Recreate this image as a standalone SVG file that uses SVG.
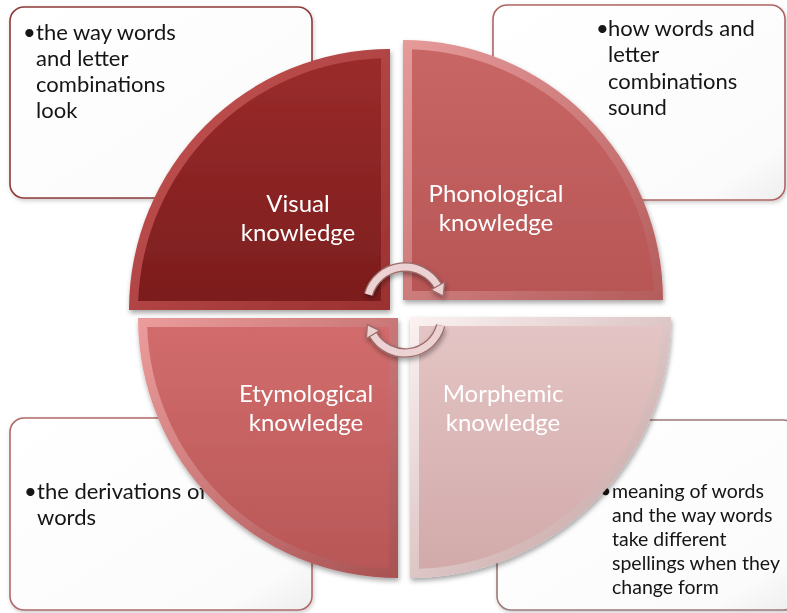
<svg xmlns="http://www.w3.org/2000/svg" width="787" height="613" viewBox="0 0 787 613">
  <defs>
    <style>
      .btxt{font-family:Lato,"Open Sans","Liberation Sans",sans-serif;font-size:22px;fill:#141414;}
      .btxt-sm{font-size:19.5px;}
      .label{font-family:Lato,"Open Sans","Liberation Sans",sans-serif;font-size:24px;fill:#ffffff;text-anchor:middle;}
      .box{fill:url(#boxFill);stroke-width:1.6;}
      .arc-edge{fill:none;stroke:#9c6a6a;stroke-width:9.5;}
      .arc-body{fill:none;stroke:#ecd2d2;stroke-width:7;}
      .head{fill:#ecd2d2;stroke:#9c6a6a;stroke-width:1.2;stroke-linejoin:round;}
    </style>
    <linearGradient id="boxFill" x1="0" y1="0" x2="1" y2="1">
      <stop offset="0" stop-color="#ffffff"/>
      <stop offset="0.85" stop-color="#fbfbfb"/>
      <stop offset="1" stop-color="#eeeeee"/>
    </linearGradient>
    <!-- quadrant bevel frames (lit from top-left) -->
    <linearGradient id="frameV" x1="0" y1="0" x2="1" y2="1">
      <stop offset="0" stop-color="#c85858"/>
      <stop offset="1" stop-color="#9a3030"/>
    </linearGradient>
    <linearGradient id="frameP" x1="0" y1="0" x2="1" y2="1">
      <stop offset="0" stop-color="#e69a9a"/>
      <stop offset="1" stop-color="#b45c5c"/>
    </linearGradient>
    <linearGradient id="frameE" x1="0" y1="0" x2="1" y2="1">
      <stop offset="0" stop-color="#ec9c9c"/>
      <stop offset="1" stop-color="#a85252"/>
    </linearGradient>
    <linearGradient id="frameM" x1="0" y1="0" x2="1" y2="1">
      <stop offset="0" stop-color="#fbf2f2"/>
      <stop offset="1" stop-color="#c09a9a"/>
    </linearGradient>
    <!-- quadrant faces -->
    <linearGradient id="faceV" x1="0" y1="0" x2="0" y2="1">
      <stop offset="0" stop-color="#9a2b2b"/>
      <stop offset="1" stop-color="#7c1d1d"/>
    </linearGradient>
    <linearGradient id="faceP" x1="0" y1="0" x2="0" y2="1">
      <stop offset="0" stop-color="#c86666"/>
      <stop offset="1" stop-color="#b85656"/>
    </linearGradient>
    <linearGradient id="faceE" x1="0" y1="0" x2="0" y2="1">
      <stop offset="0" stop-color="#d26c6c"/>
      <stop offset="1" stop-color="#b85757"/>
    </linearGradient>
    <linearGradient id="faceM" x1="0" y1="0" x2="0" y2="1">
      <stop offset="0" stop-color="#e4c4c4"/>
      <stop offset="1" stop-color="#d2aaaa"/>
    </linearGradient>
    <filter id="shadow" x="-10%" y="-10%" width="125%" height="125%">
      <feDropShadow dx="1" dy="3" stdDeviation="2.5" flood-color="#000000" flood-opacity="0.35"/>
    </filter>
    <filter id="boxShadow" x="-5%" y="-5%" width="115%" height="115%">
      <feDropShadow dx="1" dy="2" stdDeviation="2" flood-color="#000000" flood-opacity="0.2"/>
    </filter>
  </defs>

  <!-- description boxes (drawn beneath the circle) -->
  <g id="box-visual" filter="url(#boxShadow)">
    <rect class="box" x="10" y="7" width="302" height="191" rx="14" stroke="#8e3a3a"/>
    <text class="btxt"><tspan x="23" y="40">•</tspan><tspan x="36" y="40">the way words</tspan><tspan x="36" y="66">and letter</tspan><tspan x="36" y="92">combinations</tspan><tspan x="36" y="118">look</tspan></text>
  </g>
  <g id="box-phonological" filter="url(#boxShadow)">
    <rect class="box" x="493" y="5" width="292" height="195" rx="14" stroke="#b06464"/>
    <text class="btxt"><tspan x="596" y="36">•</tspan><tspan x="608" y="36">how words and</tspan><tspan x="608" y="62">letter</tspan><tspan x="608" y="89">combinations</tspan><tspan x="608" y="115">sound</tspan></text>
  </g>
  <g id="box-etymological" filter="url(#boxShadow)">
    <rect class="box" x="10" y="418" width="302" height="192" rx="14" stroke="#b06a6a"/>
    <text class="btxt"><tspan x="24" y="499">•</tspan><tspan x="37" y="499">the derivations of</tspan><tspan x="37" y="525">words</tspan></text>
  </g>
  <g id="box-morphemic" filter="url(#boxShadow)">
    <rect class="box" x="497" y="420" width="300" height="190" rx="14" stroke="#9c7a7a"/>
    <text class="btxt btxt-sm"><tspan x="600" y="498">•</tspan><tspan x="612" y="498">meaning of words</tspan><tspan x="612" y="522">and the way words</tspan><tspan x="612" y="546">take different</tspan><tspan x="612" y="570">spellings when they</tspan><tspan x="612" y="594">change form</tspan></text>
  </g>

  <!-- circle quadrants -->
  <g id="quadrant-visual" filter="url(#shadow)">
    <path d="M390,310 L129,310 A261,261 0 0 1 390,49 Z" fill="url(#frameV)"/>
    <path d="M381,301 L138.2,301 A252,252 0 0 1 381,58.2 Z" fill="url(#faceV)"/>
    <text class="label"><tspan x="298" y="212">Visual</tspan><tspan x="298" y="241">knowledge</tspan></text>
  </g>
  <g id="quadrant-phonological" filter="url(#shadow)">
    <path d="M403,300 L403,40 A260,260 0 0 1 663,300 Z" fill="url(#frameP)"/>
    <path d="M412,291 L412,49.2 A251,251 0 0 1 653.8,291 Z" fill="url(#faceP)"/>
    <text class="label"><tspan x="496" y="202">Phonological</tspan><tspan x="496" y="231">knowledge</tspan></text>
  </g>
  <g id="quadrant-etymological" filter="url(#shadow)">
    <path d="M398,318 L398,578 A260,260 0 0 1 138,318 Z" fill="url(#frameE)"/>
    <path d="M389,327 L389,568.8 A251,251 0 0 1 147.2,327 Z" fill="url(#faceE)"/>
    <text class="label"><tspan x="306" y="402">Etymological</tspan><tspan x="306" y="431">knowledge</tspan></text>
  </g>
  <g id="quadrant-morphemic" filter="url(#shadow)">
    <path d="M410,317 L671,317 A261,261 0 0 1 410,578 Z" fill="url(#frameM)"/>
    <path d="M419,326 L661.8,326 A252,252 0 0 1 419,568.8 Z" fill="url(#faceM)"/>
    <text class="label"><tspan x="503" y="402">Morphemic</tspan><tspan x="503" y="431">knowledge</tspan></text>
  </g>

  <!-- cycle arrows in the centre -->
  <g id="connectors" filter="url(#shadow)">
    <g id="arrow-top">
      <path class="arc-edge" d="M368.5,294.5 A38,38 0 0 1 437.9,286"/>
      <path class="arc-body" d="M368.5,294.5 A38,38 0 0 1 437.9,286"/>
      <polygon class="head" points="444.6,282 431.2,289.8 443.2,296"/>
    </g>
    <g id="arrow-bottom">
      <path class="arc-edge" d="M440.7,325.6 A37,37 0 0 1 373,334.5"/>
      <path class="arc-body" d="M440.7,325.6 A37,37 0 0 1 373,334.5"/>
      <polygon class="head" points="366.4,338.4 379.6,330.6 367.4,324.6"/>
    </g>
  </g>
</svg>
